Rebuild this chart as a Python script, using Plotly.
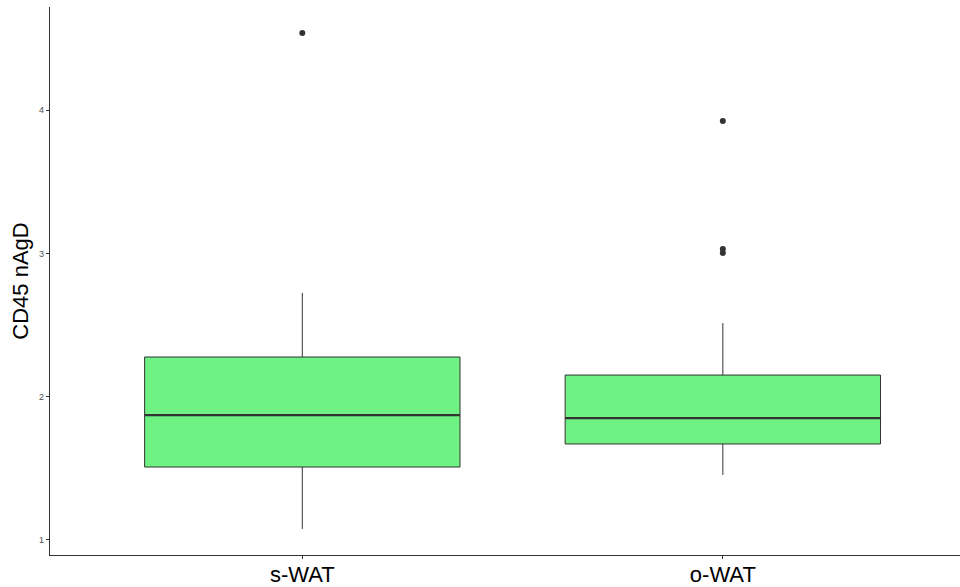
import plotly.graph_objects as go

categories = ["s-WAT", "o-WAT"]
q1 = [1.509, 1.670]
median = [1.872, 1.851]
q3 = [2.277, 2.151]
lower_whisker = [1.077, 1.454]
upper_whisker = [2.724, 2.514]
outliers = [[4.538], [3.924, 3.031, 3.003]]
y_ticks = [1, 2, 3, 4]

box_width = 0.75
fill = "#6EF284"
line_col = "#333333"

fig = go.Figure()
for i, cat in enumerate(categories):
    fig.add_trace(go.Box(
        x=[i], q1=[q1[i]], median=[median[i]], q3=[q3[i]],
        lowerfence=[lower_whisker[i]], upperfence=[upper_whisker[i]],
        width=box_width, whiskerwidth=0, fillcolor=fill,
        line=dict(color=line_col, width=1), boxpoints=False,
        showlegend=False, hoverinfo="skip",
    ))
    # thicker median line (ggplot fatten)
    fig.add_trace(go.Scatter(
        x=[i - box_width / 2, i + box_width / 2], y=[median[i], median[i]],
        mode="lines", line=dict(color=line_col, width=2.2),
        showlegend=False, hoverinfo="skip",
    ))
    fig.add_trace(go.Scatter(
        x=[i] * len(outliers[i]), y=outliers[i], mode="markers",
        marker=dict(color=line_col, size=6),
        showlegend=False, hoverinfo="skip",
    ))

fig.update_layout(
    width=960, height=587,
    margin=dict(l=50, r=0, t=7, b=32, autoexpand=False),
    plot_bgcolor="white", paper_bgcolor="white",
    font=dict(family="Liberation Sans, Arial, sans-serif", color="black"),
)
fig.update_xaxes(
    range=[-0.6, 1.564], tickvals=[0, 1], ticktext=categories,
    showline=True, linecolor=line_col, linewidth=1.3,
    ticks="outside", ticklen=3, tickcolor=line_col, ticklabelstandoff=-4,
    tickfont=dict(size=22, color="black"), showgrid=False, zeroline=False,
)
fig.update_yaxes(
    range=[0.895, 4.72], tickvals=y_ticks,
    showline=True, linecolor=line_col, linewidth=1.3,
    ticks="outside", ticklen=3, tickcolor=line_col,
    tickfont=dict(size=9, color="#4d4d4d"), showgrid=False, zeroline=False,
    title=dict(text="CD45 nAgD", font=dict(size=22, color="black"), standoff=4),
)

fig.write_html("out.html", config={"displayModeBar": False},
               post_script="document.body.style.margin='0';")
